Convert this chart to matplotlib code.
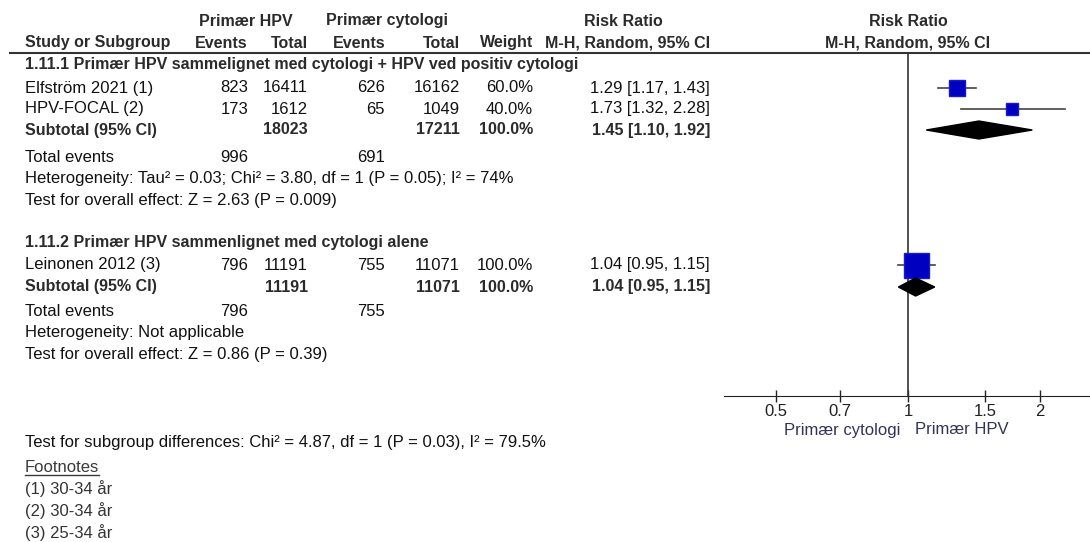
import matplotlib
matplotlib.use("Agg")
import matplotlib.pyplot as plt

plt.rcParams['font.family'] = ['Liberation Sans', 'DejaVu Sans']

# study rows
studies = ["Elfström 2021 (1)", "HPV-FOCAL (2)", "Leinonen 2012 (3)"]
hpv_events = [823, 173, 796]
hpv_total = [16411, 1612, 11191]
cyt_events = [626, 65, 755]
cyt_total = [16162, 1049, 11071]
weights = [60.0, 40.0, 100.0]
rr = [1.29, 1.73, 1.04]
ci_low = [1.17, 1.32, 0.95]
ci_high = [1.43, 2.28, 1.15]

# subgroup pooled
sub_names = ["1.11.1 Primær HPV sammelignet med cytologi + HPV ved positiv cytologi",
             "1.11.2 Primær HPV sammenlignet med cytologi alene"]
sub_hpv_total = [18023, 11191]
sub_cyt_total = [17211, 11071]
sub_hpv_events = [996, 796]
sub_cyt_events = [691, 755]
sub_rr = [1.45, 1.04]
sub_low = [1.10, 0.95]
sub_high = [1.92, 1.15]
heterogeneity = ["Heterogeneity: Tau² = 0.03; Chi² = 3.80, df = 1 (P = 0.05); I² = 74%",
                 "Heterogeneity: Not applicable"]
overall = ["Test for overall effect: Z = 2.63 (P = 0.009)",
           "Test for overall effect: Z = 0.86 (P = 0.39)"]

ticks = [0.5, 0.7, 1, 1.5, 2]
tick_labels = ["0.5", "0.7", "1", "1.5", "2"]
footnotes = ["(1) 30-34 år", "(2) 30-34 år", "(3) 25-34 år"]

txt_c = '#111111'
hdr_c = '#2b2b2b'
FS = 12
BFS = 11.5

fig = plt.figure(figsize=(10.9, 5.42), dpi=100)
tx = fig.add_axes([0, 0, 1, 1])
tx.set_xlim(0, 1090)
tx.set_ylim(542, 0)
tx.axis('off')


def t(x, y, s, ha='left', bold=False, color=txt_c, size=None):
    tx.text(x, y, s, ha=ha, va='center', color=color,
            fontsize=size or (BFS if bold else FS),
            fontweight='bold' if bold else 'normal')


# column right edges
c_ev1, c_tot1, c_ev2, c_tot2, c_w, c_ci = 248, 308, 385, 460, 533, 710

# header
t(246, 21, "Primær HPV", ha='center', bold=True, color=hdr_c)
t(387, 21, "Primær cytologi", ha='center', bold=True, color=hdr_c)
t(623, 21, "Risk Ratio", ha='center', bold=True, color=hdr_c)
t(908, 21, "Risk Ratio", ha='center', bold=True, color=hdr_c)
t(25, 43, "Study or Subgroup", bold=True, color=hdr_c)
t(c_ev1, 43, "Events", ha='right', bold=True, color=hdr_c)
t(c_tot1, 43, "Total", ha='right', bold=True, color=hdr_c)
t(c_ev2, 43, "Events", ha='right', bold=True, color=hdr_c)
t(c_tot2, 43, "Total", ha='right', bold=True, color=hdr_c)
t(c_w, 43, "Weight", ha='right', bold=True, color=hdr_c)
t(c_ci, 43, "M-H, Random, 95% CI", ha='right', bold=True, color=hdr_c)
t(908, 43, "M-H, Random, 95% CI", ha='center', bold=True, color=hdr_c)
tx.plot([10, 1090], [53, 53], color='#333333', lw=1.5)

# row positions (pixels from top)
study_y = [88, 109, 265]
group_y = [65, 242]
sub_y = [130, 287]
tot_y = [157, 311]
het_y = [179, 333]
ov_y = [200, 355]

for g in range(2):
    t(25, group_y[g], sub_names[g], bold=True, color=hdr_c)
    t(25, sub_y[g], "Subtotal (95% CI)", bold=True, color=hdr_c)
    t(c_tot1, sub_y[g], str(sub_hpv_total[g]), ha='right', bold=True, color=hdr_c)
    t(c_tot2, sub_y[g], str(sub_cyt_total[g]), ha='right', bold=True, color=hdr_c)
    t(c_w, sub_y[g], "100.0%", ha='right', bold=True, color=hdr_c)
    t(c_ci, sub_y[g], f"{sub_rr[g]:.2f} [{sub_low[g]:.2f}, {sub_high[g]:.2f}]",
      ha='right', bold=True, color=hdr_c)
    t(25, tot_y[g], "Total events")
    t(c_ev1, tot_y[g], str(sub_hpv_events[g]), ha='right')
    t(c_ev2, tot_y[g], str(sub_cyt_events[g]), ha='right')
    t(25, het_y[g], heterogeneity[g])
    t(25, ov_y[g], overall[g])

for i, name in enumerate(studies):
    y = study_y[i]
    t(25, y, name)
    t(c_ev1, y, str(hpv_events[i]), ha='right')
    t(c_tot1, y, str(hpv_total[i]), ha='right')
    t(c_ev2, y, str(cyt_events[i]), ha='right')
    t(c_tot2, y, str(cyt_total[i]), ha='right')
    t(c_w, y, f"{weights[i]:.1f}%", ha='right')
    t(c_ci, y, f"{rr[i]:.2f} [{ci_low[i]:.2f}, {ci_high[i]:.2f}]", ha='right')

# bottom text
t(25, 443, "Test for subgroup differences: Chi² = 4.87, df = 1 (P = 0.03), I² = 79.5%")
fn = tx.text(25, 467, "Footnotes", ha='left', va='center', color='#3a3a3a', fontsize=FS)
for k, s in enumerate(footnotes):
    t(25, 489 + 22 * k, s, color='#333333')
fig.canvas.draw()
bb = fn.get_window_extent(fig.canvas.get_renderer())
tx.plot([bb.x0, bb.x1], [475, 475], color='#3a3a3a', lw=1)

# forest panel
ax_l, ax_r, ax_top, ax_bot = 724, 1090, 53, 396
fx = fig.add_axes([ax_l / 1090, (542 - ax_bot) / 542,
                   (ax_r - ax_l) / 1090, (ax_bot - ax_top) / 542])
fx.patch.set_alpha(0)
fx.set_xscale('log')
fx.set_xlim(0.38, 2.6)
fx.set_ylim(ax_bot, ax_top)
for s in ['top', 'right', 'left']:
    fx.spines[s].set_visible(False)
fx.spines['bottom'].set_color('#222222')
fx.set_yticks([])
fx.set_xticks(ticks)
fx.set_xticklabels(tick_labels)
fx.minorticks_off()
fx.tick_params(axis='x', direction='inout', length=9, width=1, pad=1,
               labelsize=FS, colors='#222222')
fx.axvline(1, color='#333333', lw=1.2)

for i in range(len(studies)):
    y = study_y[i]
    fx.plot([ci_low[i], ci_high[i]], [y, y], color='#444444', lw=1.2, zorder=2)
    side_px = 4 + 0.21 * weights[i]
    fx.plot([rr[i]], [y], marker='s', markersize=side_px * 0.72,
            color='#0000c0', markeredgecolor='#1a1acc', zorder=3)

for g in range(2):
    y = sub_y[g]
    h = 9
    fx.fill([sub_low[g], sub_rr[g], sub_high[g], sub_rr[g]],
            [y, y - h, y, y + h], color='black', zorder=3)

t(900, 430, "Primær cytologi", ha='right', color='#33335a')
t(915, 430, "Primær HPV", ha='left', color='#33335a')

fig.savefig("out.png", dpi=100)
